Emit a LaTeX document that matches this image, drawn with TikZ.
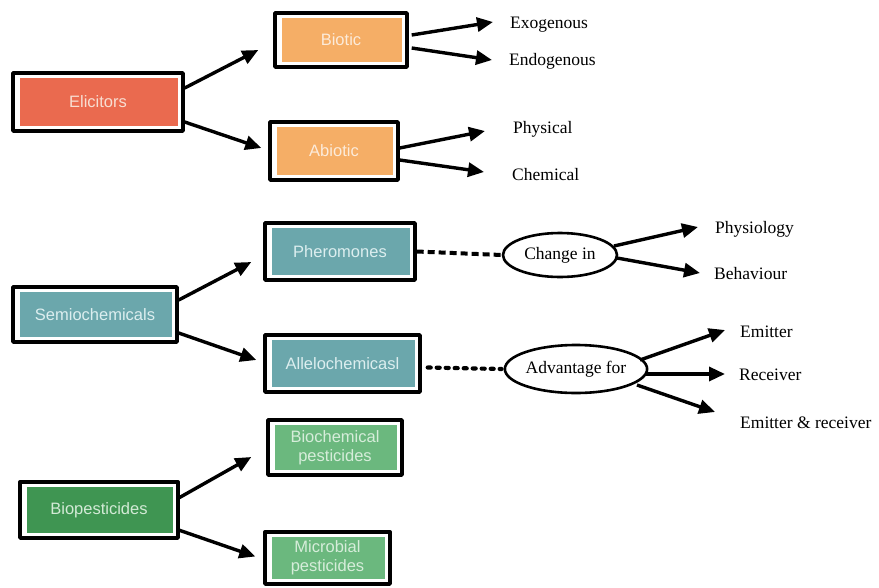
\documentclass[tikz,border=0pt]{standalone}
\usepackage{fontspec}
\setmainfont{Liberation Serif}
\setsansfont{Liberation Sans}
\usetikzlibrary{arrows.meta,shapes.geometric,calc}
\definecolor{cEl}{HTML}{EA6A4F}
\definecolor{tEl}{HTML}{F8DED2}
\definecolor{cOr}{HTML}{F5AE66}
\definecolor{tOr}{HTML}{FCEBDA}
\definecolor{cTe}{HTML}{6BA7AC}
\definecolor{tTe}{HTML}{DCEEEF}
\definecolor{cDg}{HTML}{3F9552}
\definecolor{tDg}{HTML}{D3EAD6}
\definecolor{cLg}{HTML}{6BB87E}
\definecolor{tLg}{HTML}{D6EDDA}
\tikzset{
  box/.style={draw=black, line width=3.4pt, line join=round, fill=white, rectangle, inner sep=0pt,
    align=center, font=\sffamily\fontsize{16.5}{19}\selectfont},
  fillc/.style={path picture={\fill[#1] ([shift={(7pt,-5pt)}]path picture bounding box.north west)
      rectangle ([shift={(-5pt,5pt)}]path picture bounding box.south east);}},
  lbl/.style={anchor=base west, inner sep=0pt, font=\fontsize{17.5}{20}\selectfont, text=black},
  oval/.style={ellipse, draw=black, line width=2.6pt, inner sep=0pt, font=\fontsize{17.5}{20}\selectfont, text=black},
  arr/.style={line width=3.4pt, -{Triangle[length=16pt,width=14pt]}},
  dashlink/.style={line width=4pt, dash pattern=on 7pt off 4pt},
  dotlink/.style={line width=4.2pt, line cap=round, dash pattern=on 3pt off 6pt}
}
\begin{document}
\begin{tikzpicture}[x=1pt,y=-1pt]
\useasboundingbox (0,0) rectangle (879,587);
% boxes
\node[box, fillc=cEl, text=tEl, minimum width=170pt, minimum height=58pt] (el) at (98,102) {Elicitors};
\node[box, fillc=cOr, text=tOr, minimum width=132pt, minimum height=54pt] (bi) at (341,40) {Biotic};
\node[box, fillc=cOr, text=tOr, minimum width=128pt, minimum height=58pt] (ab) at (334,151) {Abiotic};
\node[box, fillc=cTe, text=tTe, minimum width=164pt, minimum height=55pt] (se) at (95,314.5) {Semiochemicals};
\node[box, fillc=cTe, text=tTe, minimum width=150pt, minimum height=57pt] (ph) at (340,251.5) {Pheromones};
\node[box, fillc=cTe, text=tTe, minimum width=155pt, minimum height=57pt] (al) at (342.5,363.5) {Allelochemicasl};
\node[box, fillc=cDg, text=tDg, minimum width=158pt, minimum height=56pt] (bp) at (99,510) {Biopesticides};
\node[box, fillc=cLg, text=tLg, minimum width=134pt, minimum height=55pt] (bc) at (335,447.5) {Biochemical\\pesticides};
\node[box, fillc=cLg, text=tLg, minimum width=125pt, minimum height=52pt] (mb) at (327.5,558) {Microbial\\pesticides};
% ellipses
\node[oval, minimum width=114pt, minimum height=44pt] (ci) at (560,255) {Change in};
\node[oval, minimum width=140pt, minimum height=48pt] (adv) at (576,369) {Advantage for};
% labels
\node[lbl] (exo) at (510,28) {Exogenous};
\node[lbl] (endo) at (509,65) {Endogenous};
\node[lbl] (phys) at (513,133) {Physical};
\node[lbl] (chem) at (512,180) {Chemical};
\node[lbl] (physio) at (715,233) {Physiology};
\node[lbl] (behav) at (714,279) {Behaviour};
\node[lbl] (emit) at (740,337) {Emitter};
\node[lbl] (recv) at (739,380) {Receiver};
\node[lbl] (er) at (740,428) {Emitter \& receiver};
% arrows
\draw[arr] ($(el.east)+(0,-14)$) -- ($(bi.west)+(-15,10)$);
\draw[arr] ($(el.east)+(0,20)$) -- ($(ab.west)+(-7,-3)$);
\draw[arr] ($(bi.east)+(3,-5)$) -- ($(exo.base west)+(-17,-6)$);
\draw[arr] ($(bi.east)+(3,8)$) -- ($(endo.base west)+(-17,-5)$);
\draw[arr] ($(ab.east)+(0,-3)$) -- ($(phys.base west)+(-28,-2)$);
\draw[arr] ($(ab.east)+(0,9)$) -- ($(chem.base west)+(-28,-8)$);
\draw[arr] ($(se.east)+(0,-14.5)$) -- ($(ph.west)+(-12,10.5)$);
\draw[arr] ($(se.east)+(0,18.5)$) -- ($(al.west)+(-7,-3.5)$);
\draw[dashlink] (ph.east) -- (ci.west);
\draw[dotlink] ($(al.east)+(6,4)$) -- ($(adv.west)+(-2,0)$);
\draw[arr] ($(ci.center)+(54,-9)$) -- ($(physio.base west)+(-17,-6)$);
\draw[arr] ($(ci.center)+(57,3)$) -- ($(behav.base west)+(-14,-6)$);
\draw[arr] ($(adv.center)+(64,-9)$) -- ($(emit.base west)+(-15,-7)$);
\draw[arr] ($(adv.center)+(69,5)$) -- ($(recv.base west)+(-14,-6)$);
\draw[arr] ($(adv.center)+(61,16)$) -- ($(er.base west)+(-25,-16)$);
\draw[arr] ($(bp.east)+(-1,-12)$) -- ($(bc.west)+(-15,9.5)$);
\draw[arr] ($(bp.east)+(-1,20)$) -- ($(mb.west)+(-8,-1.5)$);
\end{tikzpicture}
\end{document}
